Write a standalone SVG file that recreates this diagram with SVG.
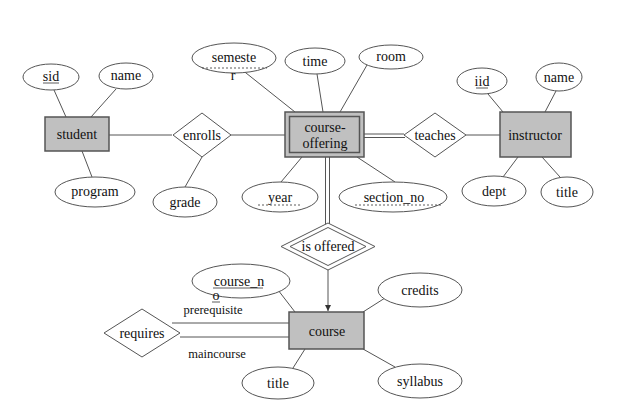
<svg xmlns="http://www.w3.org/2000/svg" width="624" height="419" viewBox="0 0 624 419" font-family="Liberation Serif, DejaVu Serif, serif">
<defs>
<style>
text{font-family:'Liberation Serif','Times New Roman','DejaVu Serif',serif;font-size:14px;fill:#111;text-anchor:middle}
.sm{font-size:12.5px}
.ent{fill:#c0c0c0;stroke:#555;stroke-width:1.5}
.att{fill:#fff;stroke:#555;stroke-width:1}
.rel{fill:#fff;stroke:#555;stroke-width:1}
.ln{stroke:#555;stroke-width:1;fill:none}
.ul{stroke:#333;stroke-width:0.8}
.dash{stroke:#333;stroke-width:0.8;stroke-dasharray:2 2}
</style>
<marker id="arr" markerWidth="8" markerHeight="8" refX="6" refY="3" orient="auto" markerUnits="userSpaceOnUse">
<path d="M0,0 L6,3 L0,6 Z" fill="#333"/>
</marker>
</defs>
<rect width="624" height="419" fill="#fff"/>
<g id="connectors">
<line class="ln" x1="54" y1="90" x2="66" y2="117"/>
<line class="ln" x1="116" y1="89" x2="91" y2="117"/>
<line class="ln" x1="82" y1="151" x2="92" y2="177"/>
<line class="ln" x1="109" y1="135" x2="172" y2="135"/>
<line class="ln" x1="231" y1="135" x2="285" y2="135"/>
<line class="ln" x1="202" y1="157" x2="185" y2="187"/>
<line class="ln" x1="241" y1="69" x2="295" y2="112"/>
<line class="ln" x1="317" y1="74" x2="323" y2="112"/>
<line class="ln" x1="367" y1="65" x2="340" y2="112"/>
<line class="ln" x1="302" y1="157" x2="281" y2="182"/>
<line class="ln" x1="357" y1="157" x2="395" y2="182"/>
<line class="ln" x1="364" y1="134" x2="404" y2="134"/>
<line class="ln" x1="364" y1="137.5" x2="405" y2="137.5"/>
<line class="ln" x1="466" y1="135" x2="500" y2="135"/>
<line class="ln" x1="488" y1="94" x2="503" y2="112"/>
<line class="ln" x1="556" y1="91" x2="545" y2="112"/>
<line class="ln" x1="518" y1="157" x2="503" y2="177"/>
<line class="ln" x1="542" y1="157" x2="560" y2="177"/>
<line class="ln" x1="325.5" y1="157" x2="325.5" y2="225"/>
<line class="ln" x1="329.5" y1="157" x2="329.5" y2="225"/>
<line class="ln" x1="328" y1="270" x2="328" y2="311" marker-end="url(#arr)"/>
<line class="ln" x1="278" y1="290" x2="295" y2="312"/>
<line class="ln" x1="385" y1="298" x2="363" y2="312"/>
<line class="ln" x1="305" y1="349" x2="293" y2="368"/>
<line class="ln" x1="363" y1="349" x2="395" y2="367"/>
<line class="ln" x1="172" y1="323" x2="289" y2="323"/>
<line class="ln" x1="180" y1="337" x2="289" y2="337"/>
</g>
<g id="student"><rect class="ent" x="45" y="117" width="64" height="34"/><text x="77" y="139">student</text></g>
<g id="sid"><ellipse class="att" cx="51" cy="77" rx="28" ry="13"/><text x="51" y="81">sid</text><line class="ul" x1="43" y1="83" x2="59" y2="83"/></g>
<g id="student-name"><ellipse class="att" cx="126" cy="76" rx="27" ry="13"/><text x="126" y="80">name</text></g>
<g id="program"><ellipse class="att" cx="95" cy="192" rx="40" ry="15"/><text x="95" y="196">program</text></g>
<g id="enrolls"><polygon class="rel" points="202,113 231,135 202,157 173,135"/><text x="202" y="140">enrolls</text></g>
<g id="grade"><ellipse class="att" cx="185" cy="202" rx="32" ry="15"/><text x="185" y="207">grade</text></g>
<g id="course-offering"><rect class="ent" x="285" y="112" width="79" height="45"/><rect class="ent" x="289.5" y="116.5" width="70" height="36"/><text x="325" y="132">course-</text><text x="325" y="148">offering</text></g>
<g id="semester"><ellipse class="att" cx="234" cy="58" rx="42" ry="15"/><text x="234" y="62">semeste</text><line class="dash" x1="202" y1="68" x2="267" y2="68"/><text x="233" y="80">r</text></g>
<g id="time"><ellipse class="att" cx="315" cy="61" rx="30" ry="13"/><text x="315" y="66">time</text></g>
<g id="room"><ellipse class="att" cx="391" cy="57" rx="32" ry="12"/><text x="391" y="61">room</text></g>
<g id="year"><ellipse class="att" cx="280" cy="197" rx="38" ry="15"/><text x="280" y="202">year</text><line class="dash" x1="258" y1="205" x2="302" y2="205"/></g>
<g id="section_no"><ellipse class="att" cx="393" cy="197" rx="54" ry="15"/><text x="394" y="202">section_no</text><line class="dash" x1="355" y1="205" x2="443" y2="205"/></g>
<g id="teaches"><polygon class="rel" points="435,113 466,135 435,157 404,135"/><text x="435" y="140">teaches</text></g>
<g id="instructor"><rect class="ent" x="500" y="112" width="71" height="45"/><text x="535" y="140">instructor</text></g>
<g id="iid"><ellipse class="att" cx="482" cy="81" rx="25" ry="13"/><text x="482" y="86">iid</text><line class="ul" x1="476" y1="88" x2="488" y2="88"/></g>
<g id="instructor-name"><ellipse class="att" cx="559" cy="77" rx="23" ry="14"/><text x="559" y="82">name</text></g>
<g id="dept"><ellipse class="att" cx="494" cy="191" rx="32" ry="15"/><text x="494" y="196">dept</text></g>
<g id="instructor-title"><ellipse class="att" cx="567" cy="192" rx="26" ry="15"/><text x="567" y="197">title</text></g>
<g id="is-offered"><polygon class="rel" points="328,223 375,246.5 328,270 281,246.5"/><polygon class="rel" points="328,227.5 366,246.5 328,265.5 290,246.5"/><text x="328" y="251">is offered</text></g>
<g id="course"><rect class="ent" x="289" y="312" width="75" height="37"/><text x="327" y="336">course</text></g>
<g id="course_no"><ellipse class="att" cx="241" cy="281" rx="49" ry="17"/><text x="239" y="286">course_n</text><line class="ul" x1="213" y1="288" x2="263" y2="288"/><text x="216" y="300">o</text><line class="ul" x1="212" y1="302" x2="220" y2="302"/></g>
<g id="credits"><ellipse class="att" cx="420" cy="290" rx="42" ry="17"/><text x="420" y="295">credits</text></g>
<g id="course-title"><ellipse class="att" cx="278" cy="383" rx="36" ry="16"/><text x="278" y="388">title</text></g>
<g id="syllabus"><ellipse class="att" cx="420" cy="381" rx="42" ry="17"/><text x="420" y="386">syllabus</text></g>
<g id="requires"><polygon class="rel" points="142,309 180,333 142,357 104,333"/><text x="142" y="338">requires</text></g>
<text class="sm" x="213" y="314">prerequisite</text>
<text class="sm" x="217" y="358">maincourse</text>
</svg>
